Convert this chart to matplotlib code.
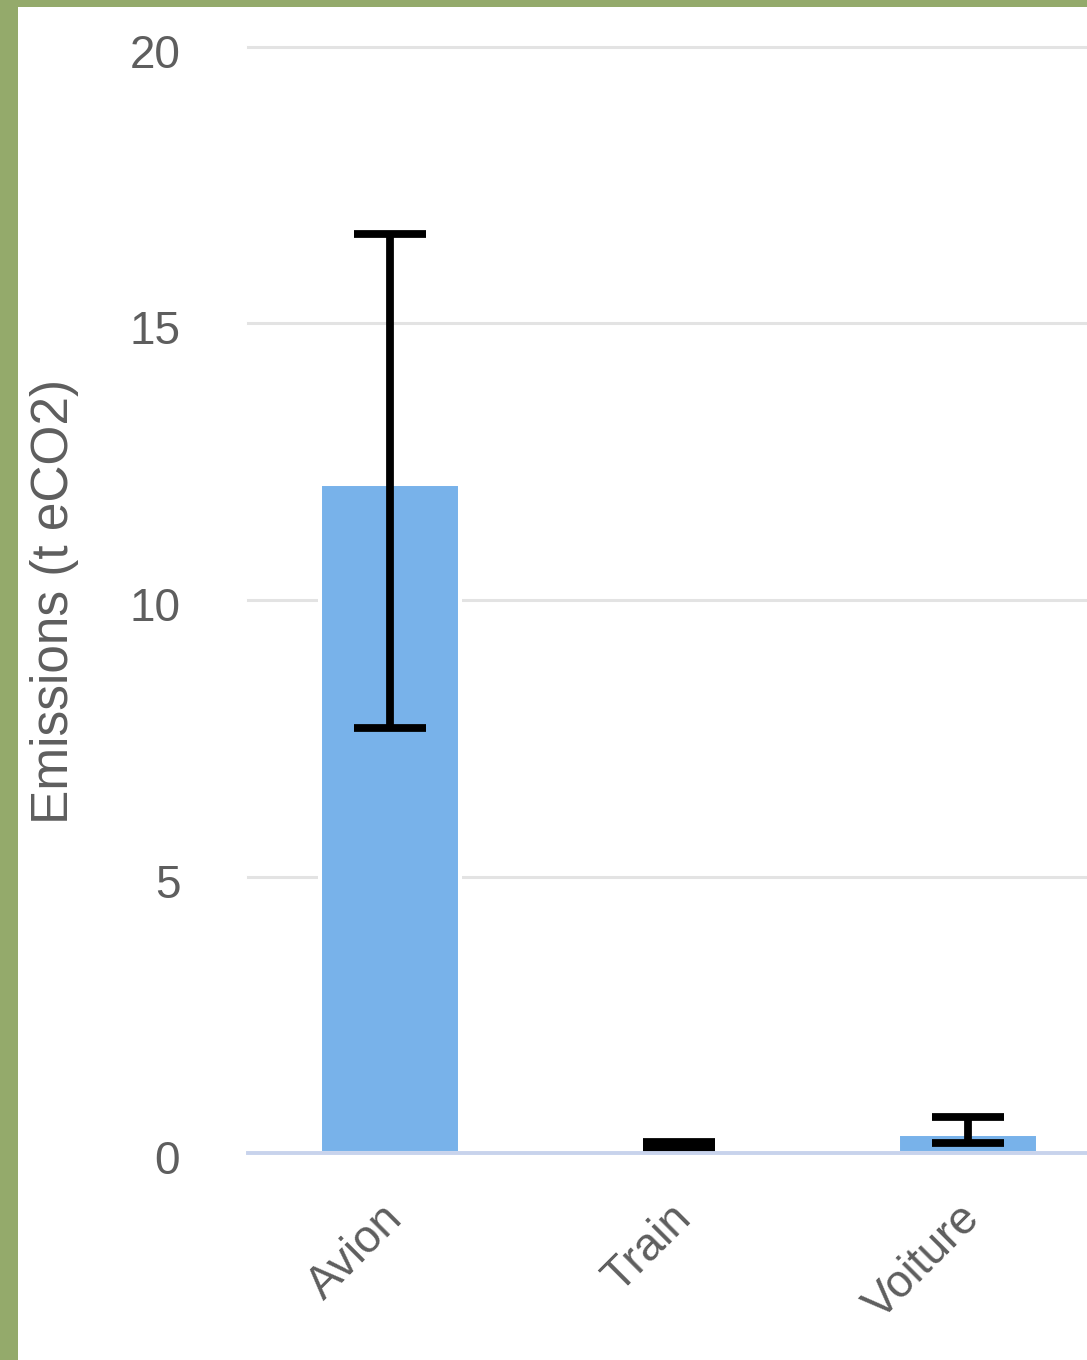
import matplotlib
matplotlib.use("Agg")
import matplotlib.pyplot as plt
from matplotlib.patches import Rectangle
from matplotlib.transforms import ScaledTranslation

categories = ["Avion", "Train", "Voiture"]
values = [12.09, 0.0, 0.34]
err_low = [7.69, 0.09, 0.18]
err_high = [16.61, 0.20, 0.65]
yticks = [0, 5, 10, 15, 20]

W, H = 1087, 1360
fig = plt.figure(figsize=(W / 100, H / 100), dpi=100)
fig.patch.set_facecolor("#94aa6b")
fig.patches.append(Rectangle((18 / W, 0), 1, (H - 7) / H, transform=fig.transFigure,
                             facecolor="white", edgecolor="none", zorder=-5))

ax = fig.add_axes([245.5 / W, 207 / H, 867 / W, 1106 / H])
ax.set_facecolor("none")
x = list(range(len(categories)))
ax.bar(x, values, width=0.486, color="#78b2ea", edgecolor="white", linewidth=2.9, zorder=3)
mid = [(lo + hi) / 2 for lo, hi in zip(err_low, err_high)]
half = [(hi - lo) / 2 for lo, hi in zip(err_low, err_high)]
ax.errorbar(x, mid, yerr=half, fmt="none", ecolor="black", elinewidth=5.6,
            capsize=26, capthick=5.6, zorder=4)

ax.set_xlim(-0.5, 2.5)
ax.set_ylim(0, 20)
ax.set_yticks(yticks)
ax.set_yticklabels([str(t) for t in yticks])
for t in yticks[1:]:
    ax.axhline(t, xmin=(248 - 245.5) / 867, color="#e3e3e3", linewidth=2.2, zorder=1,
               clip_on=False)
ax.axhline(0, xmin=(248 - 245.5) / 867, color="#c8d3ec", linewidth=2.8, zorder=5,
           clip_on=False)

for s in ax.spines.values():
    s.set_visible(False)
ax.tick_params(axis="both", length=0, labelsize=33, labelcolor="#5e5e5e")
ax.tick_params(axis="y", pad=47)
ax.set_xticks(x)
ax.set_xticklabels(categories, rotation=45, ha="right", rotation_mode="anchor")
ax.tick_params(axis="x", pad=31)
for lab in ax.get_yticklabels() + ax.get_xticklabels():
    lab.set_fontfamily("Liberation Sans")
for lab in ax.get_xticklabels():
    lab.set_transform(lab.get_transform() + ScaledTranslation(-10 / 100, 0, fig.dpi_scale_trans))
for lab in ax.get_yticklabels():
    lab.set_transform(lab.get_transform() + ScaledTranslation(0, -4 / 100, fig.dpi_scale_trans))
fig.text(55 / W, 1 - 601 / H, "Emissions (t eCO2)", rotation=90, fontsize=37,
         color="#5e5e5e", fontfamily="Liberation Sans", ha="center", va="center")

fig.savefig("out.png", dpi=100, facecolor=fig.get_facecolor())
